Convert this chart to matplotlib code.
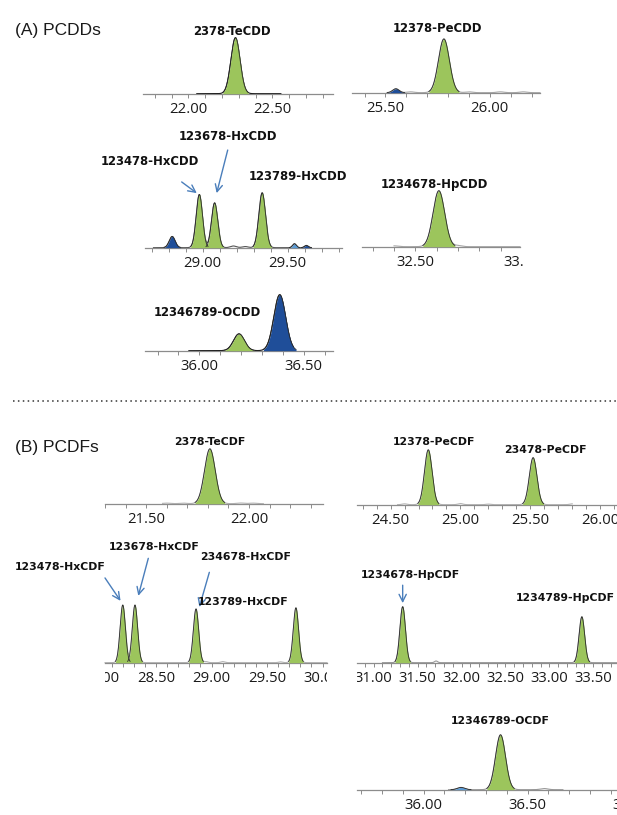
import numpy as np
import matplotlib
matplotlib.use("Agg")
import matplotlib.pyplot as plt
from matplotlib.ticker import FixedLocator
from matplotlib.transforms import Bbox, TransformedBbox, blended_transform_factory
from matplotlib.lines import Line2D

# ---------------------------------------------------------------------------
# Peak tables: retention time (min), relative height (%), base width (min), kind
# ---------------------------------------------------------------------------
tecdd_rt = [22.28]
tecdd_height = [100]
tecdd_width = [0.125]
tecdd_kind = ["target"]
tecdd_names = ["2378-TeCDD"]

pecdd_rt = [25.55, 25.78]
pecdd_height = [7, 96]
pecdd_width = [0.07, 0.12]
pecdd_kind = ["other", "target"]
pecdd_names = ["12378-PeCDD"]

hxcdd_rt = [28.82, 28.98, 29.07, 29.35, 29.54, 29.61]
hxcdd_height = [20, 95, 80, 98, 7, 4]
hxcdd_width = [0.08, 0.085, 0.085, 0.09, 0.05, 0.05]
hxcdd_kind = ["other", "target", "target", "target", "minor", "other"]
hxcdd_names = ["123478-HxCDD", "123678-HxCDD", "123789-HxCDD"]

hpcdd_rt = [32.61]
hpcdd_height = [100]
hpcdd_width = [0.125]
hpcdd_kind = ["target"]
hpcdd_names = ["1234678-HpCDD"]

ocdd_rt = [36.19, 36.385]
ocdd_height = [30, 100]
ocdd_width = [0.12, 0.13]
ocdd_kind = ["target", "other"]
ocdd_names = ["12346789-OCDD"]

tecdf_rt = [21.81]
tecdf_height = [98]
tecdf_width = [0.12]
tecdf_kind = ["target"]
tecdf_names = ["2378-TeCDF"]

pecdf_rt = [24.77, 25.52]
pecdf_height = [98, 84]
pecdf_width = [0.125, 0.125]
pecdf_kind = ["target", "target"]
pecdf_names = ["12378-PeCDF", "23478-PeCDF"]

hxcdf_rt = [28.20, 28.31, 28.86, 29.76]
hxcdf_height = [103, 103, 96, 98]
hxcdf_width = [0.11, 0.11, 0.11, 0.11]
hxcdf_kind = ["target", "target", "target", "target"]
hxcdf_names = ["123478-HxCDF", "123678-HxCDF", "234678-HxCDF", "123789-HxCDF"]

hpcdf_rt = [31.33, 33.37]
hpcdf_height = [100, 82]
hpcdf_width = [0.145, 0.145]
hpcdf_kind = ["target", "target"]
hpcdf_names = ["1234678-HpCDF", "1234789-HpCDF"]

ocdf_rt = [36.18, 36.37]
ocdf_height = [4, 98]
ocdf_width = [0.08, 0.11]
ocdf_kind = ["minor", "target"]
ocdf_names = ["12346789-OCDF"]

# baseline noise bumps: retention time (min), relative height (%)
pecdd_noise_rt = [25.62, 25.90, 26.05, 26.16]
pecdd_noise_h = [1.5, 1.5, 1.5, 1.5]
hxcdd_noise_rt = [29.18, 29.25]
hxcdd_noise_h = [3, 2]
hpcdd_noise_rt = [32.40, 32.70]
hpcdd_noise_h = [1.5, 2]
tecdf_noise_rt = [21.60, 21.68, 21.96, 22.02]
tecdf_noise_h = [1, 1, 1.2, 1]
pecdf_noise_rt = [24.60, 25.00, 25.20, 25.80]
pecdf_noise_h = [1.5, 2, 1, 1.5]
hxcdf_noise_rt = [28.95, 29.10, 29.62]
hxcdf_noise_h = [2, 2, 1.5]
hpcdf_noise_rt = [31.71]
hpcdf_noise_h = [3]
ocdf_noise_rt = [36.58]
ocdf_noise_h = [2]

# ---------------------------------------------------------------------------
# Styling
# ---------------------------------------------------------------------------
FILL = {"target": "#9cc55c", "other": "#1f4e99", "minor": "#5b9bd5"}
EDGE = "#2a2a2a"
AXIS_GREY = "#8c8c8c"
ARROW = "#4a7ebb"
TICK_FONT = "Open Sans"
LABEL_FONT = "DejaVu Sans"
TITLE_FONT = "Liberation Sans"
SIZE_A = 8.4
SIZE_B = 7.8

W, H = 617, 815
fig = plt.figure(figsize=(W / 100, H / 100), dpi=100)
fig.patch.set_facecolor("white")

AX_H = 75.0      # axes height in pixels
Y_TOP = 134.0    # intensity shown at the top of each axes


def gauss(x, rt, h, w):
    s = w / 4.6
    return h * np.exp(-0.5 * ((x - rt) / s) ** 2)


def panel(line_px, line_rng, rts, heights, widths, kinds, trace, trace_color,
          noise_rt=(), noise_h=(), view=None, clip_pad=0.0):
    """Axis line spans line_px (left, right, baseline) in pixels and
    line_rng in minutes; the view may reach a little further so that
    edge tick labels are partly shown."""
    left, right, base = line_px
    x0, x1 = line_rng
    v0, v1 = view if view else line_rng
    ppu = (right - left) / (x1 - x0)
    ax_l = left - (x0 - v0) * ppu
    ax_r = right + (v1 - x1) * ppu
    ax = fig.add_axes([ax_l / W, 1 - base / H, (ax_r - ax_l) / W, AX_H / H])
    ax.set_xlim(v0, v1)
    ax.set_ylim(0, Y_TOP)
    ax.patch.set_alpha(0)
    for s in ("top", "left", "right"):
        ax.spines[s].set_visible(False)
    ax.spines["bottom"].set_color(AXIS_GREY)
    ax.spines["bottom"].set_linewidth(0.9)
    ax.spines["bottom"].set_bounds(x0, x1)
    ax.set_yticks([])

    majors = [m / 2 for m in range(int(np.ceil(v0 * 2 - 1e-6)),
                                   int(np.floor(v1 * 2 + 1e-6)) + 1)]
    minors = [m / 10 for m in range(int(np.ceil(x0 * 10)),
                                    int(np.floor(x1 * 10)) + 1)]
    ax.xaxis.set_major_locator(FixedLocator(majors))
    ax.xaxis.set_minor_locator(FixedLocator(minors))
    ax.set_xticklabels([f"{m:.2f}" for m in majors])
    ax.tick_params(axis="x", which="both", direction="out", length=3,
                   width=0.7, color=AXIS_GREY, pad=3)
    ax.tick_params(axis="x", which="major", labelsize=10.7,
                   labelcolor="#1a1a1a")
    pad = clip_pad / ppu
    trans = blended_transform_factory(ax.transData, ax.transAxes)
    clip = TransformedBbox(Bbox([[x0 - pad, -3], [x1 + pad, 3]]), trans)
    for t, m in zip(ax.xaxis.get_major_ticks(), majors):
        t.label1.set_fontfamily(TICK_FONT)
        t.label1.set_clip_box(clip)
        t.label1.set_clip_on(True)
        if m < x0 - 1e-6 or m > x1 + 1e-6:
            t.tick1line.set_visible(False)

    # full trace: sum of all peaks and baseline bumps
    x = np.linspace(trace[0], trace[1], 1500)
    y = np.zeros_like(x)
    for rt, h, w in zip(rts, heights, widths):
        y += gauss(x, rt, h, w)
    for rt, h in zip(noise_rt, noise_h):
        y += gauss(x, rt, h, 0.08)
    ax.plot(x, y + 0.6, color=trace_color, lw=0.8, clip_on=False, zorder=2)

    # filled peaks
    for rt, h, w, k in zip(rts, heights, widths, kinds):
        xp = np.linspace(rt - 0.6 * w, rt + 0.6 * w, 300)
        yp = gauss(xp, rt, h, w)
        ax.fill_between(xp, 0.6, yp + 0.6, color=FILL[k], lw=0, zorder=3,
                        clip_on=False)
        ax.plot(xp, yp + 0.6, color=EDGE, lw=0.6, zorder=4, clip_on=False)
    return ax


def label(ax, x, y, txt, size):
    ax.text(x, y, txt, ha="center", va="center", fontsize=size,
            fontweight="bold", family=LABEL_FONT, color="#111111",
            clip_on=False, zorder=6)


def arrow(ax, x0, y0, x1, y1):
    ax.annotate("", xy=(x1, y1), xytext=(x0, y0), annotation_clip=False,
                arrowprops=dict(arrowstyle="->", color=ARROW, lw=1.0,
                                mutation_scale=13, shrinkA=0, shrinkB=0))


# ---------------------------- (A) PCDDs ------------------------------------
a1 = panel((143, 333, 94), (21.73, 22.86), tecdd_rt, tecdd_height,
           tecdd_width, tecdd_kind, (22.05, 22.55), "#111111")
label(a1, 22.26, 111, tecdd_names[0], SIZE_A)

a2 = panel((352, 540, 93), (25.34, 26.24), pecdd_rt, pecdd_height,
           pecdd_width, pecdd_kind, (25.51, 26.24), "#a8a8a8",
           pecdd_noise_rt, pecdd_noise_h)
label(a2, 25.75, 116, pecdd_names[0], SIZE_A)

a3 = panel((145, 342, 248), (28.66, 29.82), hxcdd_rt, hxcdd_height,
           hxcdd_width, hxcdd_kind, (28.71, 29.64), "#555555",
           hxcdd_noise_rt, hxcdd_noise_h)
label(a3, 28.69, 154, hxcdd_names[0], SIZE_A)
label(a3, 29.15, 200, hxcdd_names[1], SIZE_A)
label(a3, 29.56, 127, hxcdd_names[2], SIZE_A)
arrow(a3, 28.876, 118, 28.965, 98)
arrow(a3, 29.147, 175, 29.082, 98)

a4 = panel((362, 520, 247), (32.25, 32.99), hpcdd_rt, hpcdd_height,
           hpcdd_width, hpcdd_kind, (32.40, 32.99), "#a8a8a8",
           hpcdd_noise_rt, hpcdd_noise_h, view=(32.25, 33.0), clip_pad=3.2)
label(a4, 32.59, 111, hpcdd_names[0], SIZE_A)

a5 = panel((145, 333, 351), (35.74, 36.64), ocdd_rt, ocdd_height,
           ocdd_width, ocdd_kind, (35.95, 36.45), "#111111")
label(a5, 36.04, 68, ocdd_names[0], SIZE_A)

fig.text(15 / W, 1 - 30 / H, "(A) PCDDs", family=TITLE_FONT, fontsize=12.5,
         va="center", ha="left", color="#1a1a1a")

# dotted separator between the two groups
fig.add_artist(Line2D([13 / W, 1.0], [1 - 401 / H, 1 - 401 / H],
                      transform=fig.transFigure, color="#333333", lw=1.1,
                      linestyle=(0, (1, 2.2))))

# ---------------------------- (B) PCDFs ------------------------------------
b1 = panel((105, 323, 504), (21.30, 22.36), tecdf_rt, tecdf_height,
           tecdf_width, tecdf_kind, (21.58, 22.07), "#b5b5b5",
           tecdf_noise_rt, tecdf_noise_h)
label(b1, 21.81, 111, tecdf_names[0], SIZE_B)

b2 = panel((357, 617, 505), (24.26, 26.12), pecdf_rt, pecdf_height,
           pecdf_width, pecdf_kind, (24.55, 25.80), "#b5b5b5",
           pecdf_noise_rt, pecdf_noise_h)
label(b2, 24.81, 112, pecdf_names[0], SIZE_B)
label(b2, 25.61, 98, pecdf_names[1], SIZE_B)

b3 = panel((105, 327, 663), (28.04, 30.04), hxcdf_rt, hxcdf_height,
           hxcdf_width, hxcdf_kind, (28.04, 30.04), "#b5b5b5",
           hxcdf_noise_rt, hxcdf_noise_h, view=(28.0, 30.04))
label(b3, 27.635, 171, hxcdf_names[0], SIZE_B)
label(b3, 28.48, 207, hxcdf_names[1], SIZE_B)
label(b3, 29.31, 189, hxcdf_names[2], SIZE_B)
label(b3, 29.28, 109, hxcdf_names[3], SIZE_B)
arrow(b3, 28.04, 152, 28.18, 111)
arrow(b3, 28.43, 187, 28.34, 120)
arrow(b3, 28.98, 162, 28.89, 100)

b4 = panel((357, 617, 663), (30.81, 33.77), hpcdf_rt, hpcdf_height,
           hpcdf_width, hpcdf_kind, (31.10, 33.77), "#9a9a9a",
           hpcdf_noise_rt, hpcdf_noise_h)
label(b4, 31.42, 157, hpcdf_names[0], SIZE_B)
label(b4, 33.185, 116, hpcdf_names[1], SIZE_B)
arrow(b4, 31.33, 139, 31.33, 107)

b5 = panel((357, 617, 790), (35.68, 36.93), ocdf_rt, ocdf_height,
           ocdf_width, ocdf_kind, (36.12, 36.67), "#9a9a9a",
           ocdf_noise_rt, ocdf_noise_h, view=(35.68, 37.0))
label(b5, 36.37, 123, ocdf_names[0], SIZE_B)

fig.text(15 / W, 1 - 447 / H, "(B) PCDFs", family=TITLE_FONT, fontsize=12.5,
         va="center", ha="left", color="#1a1a1a")

fig.savefig("out.png", dpi=100, facecolor="white")
